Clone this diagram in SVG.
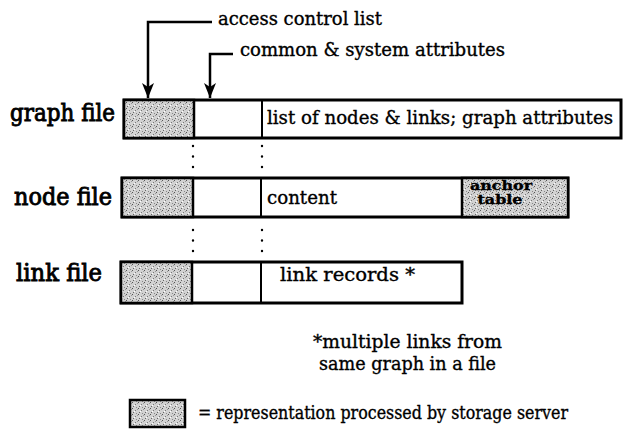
<svg xmlns="http://www.w3.org/2000/svg" width="623" height="442" viewBox="0 0 623 442">
  <defs>
    <!-- stipple used for the parts the storage server handles -->
    <pattern id="stipple" width="6" height="6" patternUnits="userSpaceOnUse">
      <rect width="6" height="6" fill="#d2d2d2"/>
      <rect x="0" y="0" width="1" height="1" fill="#555"/>
      <rect x="3" y="2" width="1" height="1" fill="#777"/>
      <rect x="1" y="4" width="1" height="1" fill="#666"/>
      <rect x="4" y="5" width="1" height="1" fill="#888"/>
      <rect x="5" y="1" width="1" height="1" fill="#999"/>
      <rect x="2" y="3" width="1" height="1" fill="#fff"/>
    </pattern>
    <!-- arrowhead drawn along +x so orient="auto" turns it with the line -->
    <marker id="arrow" markerWidth="15" markerHeight="12" refX="15" refY="6" orient="auto" markerUnits="userSpaceOnUse" viewBox="0 0 15 12">
      <path d="M0,0 L4,6 L0,12 L15,6 Z" fill="#000"/>
    </marker>
  </defs>
  <style>
    .lbl { font-family: "DejaVu Serif", "Liberation Serif", serif; fill: #000; stroke: #000; stroke-width: 0.35; }
    .row { font-size: 24px; stroke-width: 0.9; }
    .cell { font-size: 18px; }
    .note { font-size: 18px; }
    .box { fill: #fff; stroke: #000; stroke-width: 3; }
    .shade { fill: url(#stipple); stroke: #000; stroke-width: 2.5; }
    .sep { stroke: #000; stroke-width: 2; fill: none; }
    .dots { stroke: #000; stroke-width: 2.4; stroke-linecap: round; stroke-dasharray: 0 10.5; fill: none; }
    .lead { stroke: #000; stroke-width: 2.5; fill: none; }
  </style>
  <rect width="623" height="442" fill="#fff"/>

  <!-- graph file record -->
  <g id="graph-file">
    <text class="lbl row" x="10" y="121" textLength="105" lengthAdjust="spacingAndGlyphs">graph file</text>
    <rect class="box" x="124" y="100" width="497" height="38"/>
    <rect class="shade" x="124" y="100" width="70" height="38"/>
    <line class="sep" x1="262" y1="100" x2="262" y2="138"/>
    <text class="lbl cell" x="267" y="124" textLength="346" lengthAdjust="spacingAndGlyphs">list of nodes &amp; links; graph attributes</text>
  </g>

  <!-- node file record -->
  <g id="node-file">
    <text class="lbl row" x="14" y="205" textLength="98" lengthAdjust="spacingAndGlyphs">node file</text>
    <rect class="box" x="122" y="178" width="446" height="39"/>
    <rect class="shade" x="122" y="178" width="71" height="39"/>
    <line class="sep" x1="261" y1="178" x2="261" y2="217"/>
    <rect class="shade" x="462" y="178" width="106" height="39"/>
    <text class="lbl cell" x="267" y="204" textLength="70" lengthAdjust="spacingAndGlyphs">content</text>
    <text class="lbl" x="501" y="190" font-size="13" font-weight="bold" text-anchor="middle" textLength="62" lengthAdjust="spacingAndGlyphs">anchor</text>
    <text class="lbl" x="500" y="204" font-size="13" font-weight="bold" text-anchor="middle" textLength="45" lengthAdjust="spacingAndGlyphs">table</text>
  </g>

  <!-- link file record -->
  <g id="link-file">
    <text class="lbl row" x="16" y="281" textLength="86" lengthAdjust="spacingAndGlyphs">link file</text>
    <rect class="box" x="121" y="262" width="341" height="41"/>
    <rect class="shade" x="121" y="262" width="71" height="41"/>
    <line class="sep" x1="261" y1="262" x2="261" y2="303"/>
    <text class="lbl cell" x="280" y="281" textLength="135" lengthAdjust="spacingAndGlyphs">link records *</text>
  </g>

  <!-- callouts and dotted alignment guides -->
  <g id="connectors">
    <path class="lead" d="M212,22 H148 V98" marker-end="url(#arrow)"/>
    <path class="lead" d="M233,54 H210 V98" marker-end="url(#arrow)"/>
    <line class="dots" x1="193" y1="146" x2="193" y2="170"/>
    <line class="dots" x1="262" y1="146" x2="262" y2="170"/>
    <line class="dots" x1="193" y1="230" x2="193" y2="254"/>
    <line class="dots" x1="262" y1="230" x2="262" y2="254"/>
  </g>

  <g id="callout-labels">
    <text class="lbl note" x="218" y="25" textLength="164" lengthAdjust="spacingAndGlyphs">access control list</text>
    <text class="lbl note" x="240" y="56" textLength="265" lengthAdjust="spacingAndGlyphs">common &amp; system attributes</text>
  </g>

  <g id="footnote">
    <text class="lbl note" x="313" y="348" textLength="189" lengthAdjust="spacingAndGlyphs">*multiple links from</text>
    <text class="lbl note" x="319" y="370" textLength="177" lengthAdjust="spacingAndGlyphs">same graph in a file</text>
  </g>

  <g id="legend">
    <rect class="shade" x="130" y="400" width="55" height="27"/>
    <text class="lbl note" x="198" y="419" textLength="370" lengthAdjust="spacingAndGlyphs">= representation processed by storage server</text>
  </g>
</svg>
